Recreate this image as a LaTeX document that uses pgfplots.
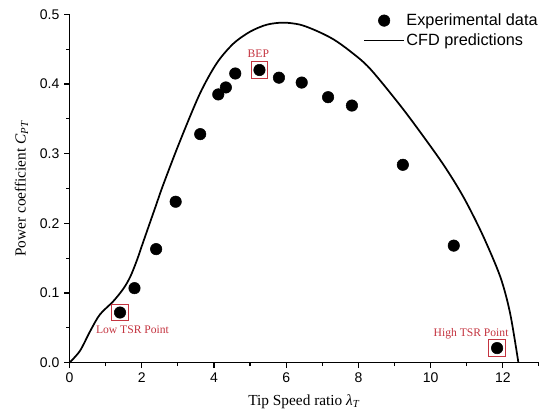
\documentclass[border=0pt]{standalone}
\usepackage{fontspec}
\setmainfont{Liberation Serif}
\setsansfont{Liberation Sans}
\usepackage{pgfplots}
\pgfplotsset{compat=1.18}

\definecolor{annot}{RGB}{196,52,64}

\pgfplotsset{
  dot legend/.style={legend image code/.code={\draw[mark repeat=2, mark phase=2, #1]
    plot coordinates {(0cm,0cm) (0.53cm,0cm) (1.06cm,0cm)};}},
  long line legend/.style={legend image code/.code={\draw[#1] (0cm,0cm) -- (1.06cm,0cm);}},
}

\begin{document}
\begin{tikzpicture}
\path[use as bounding box] (-52.1pt,-38.5pt) rectangle (352.1pt,272pt);
\begin{axis}[
  at={(0,0)}, anchor=south west,
  scale only axis,
  width=352.1pt, height=261.3pt,
  xmin=0, xmax=13, ymin=0, ymax=0.5,
  axis lines*=left,
  axis line style={line width=0.9pt, -},
  tick align=outside,
  tick style={line width=0.9pt, black},
  major tick length=4pt, minor tick length=2.5pt,
  xtick={0,2,4,6,8,10,12},
  minor xtick={1,3,5,7,9,11,13},
  ytick={0,0.1,0.2,0.3,0.4,0.5},
  minor ytick={0.05,0.15,0.25,0.35,0.45},
  yticklabel style={/pgf/number format/.cd, fixed, fixed zerofill, precision=1},
  ticklabel style={font=\sffamily\fontsize{10.5}{12}\selectfont},
  /pgf/number format/assume math mode=true,
  xlabel={Tip Speed ratio \textit{λ}\textsubscript{\textit{T}}},
  ylabel={Power coefficient \textit{C}\textsubscript{\textit{PT}}},
  xlabel shift=2pt, ylabel shift=2pt,
  label style={font=\fontsize{11.5}{13}\selectfont},
  legend style={
    at={(rel axis cs:0.625,1.01)}, anchor=north west,
    draw=none, fill=none, inner sep=0pt,
    font=\sffamily\fontsize{12.2}{14}\selectfont,
    row sep=0.5pt,
    nodes={inner xsep=1pt, inner ysep=2pt},
  },
  legend cell align=left,
  clip=false,
]

% measured power coefficient
\addplot[only marks, mark=*, mark size=4.3pt, black, dot legend]
  coordinates {
  (1.40,0.072) (1.80,0.107) (2.40,0.163) (2.94,0.231) (3.62,0.328)
  (4.12,0.385) (4.33,0.395) (4.59,0.415) (5.26,0.420) (5.80,0.409)
  (6.43,0.402) (7.16,0.381) (7.82,0.369) (9.23,0.284) (10.64,0.168)
  (11.84,0.021)
  };
\addlegendentry{Experimental data}

% simulated power coefficient
\addplot[black, line width=1.3pt, smooth, tension=0.5, long line legend]
  coordinates {
  (0,0) (0.29,0.017) (0.57,0.045) (0.84,0.069) (1.21,0.088)
  (1.49,0.106) (1.68,0.123) (1.86,0.146) (2.04,0.173) (2.37,0.222)
  (2.60,0.256) (3.06,0.318) (3.61,0.386) (4.08,0.430) (4.54,0.458)
  (5.00,0.475) (5.46,0.485) (5.92,0.488) (6.39,0.485) (6.85,0.476)
  (7.31,0.464) (7.77,0.447) (8.32,0.422) (9.25,0.363) (10.17,0.298)
  (10.63,0.262) (11.00,0.229) (11.46,0.181) (11.93,0.123) (12.20,0.071)
  (12.43,0.0)
  };
\addlegendentry{CFD predictions}

% highlighted operating points
\addplot[only marks, mark=square, mark size=6.3pt, annot,
  mark options={line width=0.7pt}, forget plot]
  coordinates {(1.40,0.072) (5.26,0.420) (11.84,0.021)};

\node[annot, font=\fontsize{8.7}{10}\selectfont] at (axis cs:1.745,0.048) {Low TSR Point};
\node[annot, font=\fontsize{8.7}{10}\selectfont] at (axis cs:5.23,0.444) {BEP};
\node[annot, font=\fontsize{8.7}{10}\selectfont] at (axis cs:11.12,0.042) {High TSR Point};
\end{axis}
\end{tikzpicture}
\end{document}
